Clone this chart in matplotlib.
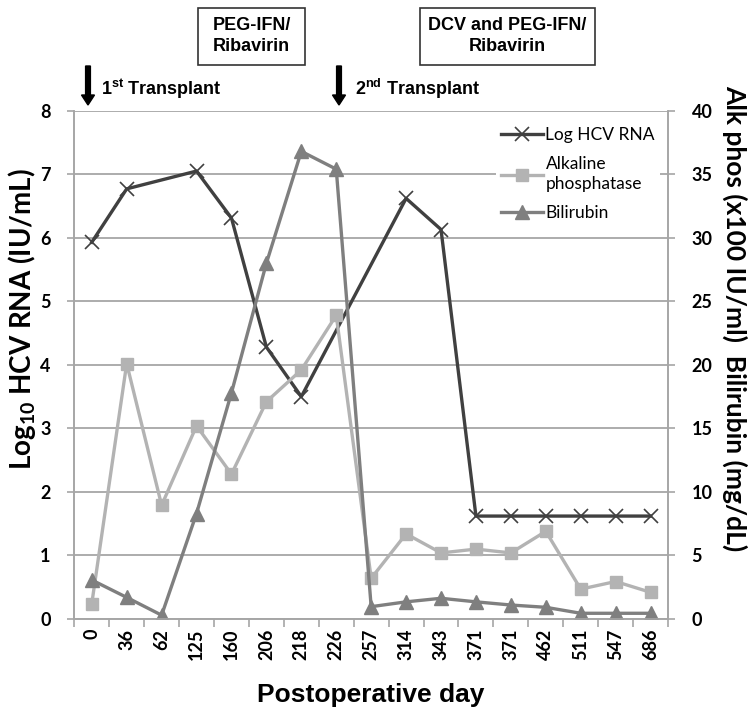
import numpy as np
import matplotlib
matplotlib.use("Agg")
import matplotlib.pyplot as plt
from matplotlib.patches import FancyArrow, Rectangle

plt.rcParams['mathtext.fontset'] = 'custom'
plt.rcParams['mathtext.rm'] = 'Liberation Sans:bold'
plt.rcParams['mathtext.sf'] = 'Lato:bold'

# Data
days = ['0', '36', '62', '125', '160', '206', '218', '226', '257',
		'314', '343', '371', '371', '462', '511', '547', '686']
log_hcv = [5.93, 6.77, np.nan, 7.05, 6.31, 4.28, 3.50, np.nan, np.nan,
		6.62, 6.13, 1.62, 1.62, 1.62, 1.62, 1.62, 1.62]
alk_phos = [1.2, 20.1, 8.95, 15.2, 11.4, 17.1, 19.6, 23.9, 3.2,
		6.7, 5.2, 5.5, 5.2, 6.9, 2.35, 2.95, 2.1]
bilirubin = [3.07, 1.7, 0.3, 8.3, 17.8, 28.0, 36.8, 35.4, 0.97,
		1.35, 1.63, 1.35, 1.1, 0.92, 0.45, 0.45, 0.45]

GRID = '#a6a6a6'
C_HCV = '#404040'
C_ALK = '#b3b3b3'
C_BIL = '#7f7f7f'

fig = plt.figure(figsize=(7.49, 7.11), dpi=100)
ax = fig.add_axes([0.0992, 0.1294, 0.7927, 0.7149])
ax2 = ax.twinx()

x = np.arange(len(days))
hcv = np.array(log_hcv)
ok = ~np.isnan(hcv)

# HCV on the left axis, gaps are bridged like in Excel
ax.plot(x[ok], hcv[ok], color=C_HCV, lw=2.4, marker='x', ms=10, mew=1.2,
		label='Log HCV RNA', zorder=3)
ax2.plot(x, alk_phos, color=C_ALK, lw=2.4, marker='s', ms=9,
		label='Alkaline\nphosphatase')
ax2.plot(x, bilirubin, color=C_BIL, lw=2.4, marker='^', ms=10,
		label='Bilirubin')

ax.set_xlim(-0.5, len(days) - 0.5)
ax.set_ylim(0, 8)
ax2.set_ylim(0, 40)
ax.set_yticks(range(0, 9))
ax2.set_yticks(range(0, 41, 5))
ax.grid(axis='y', color=GRID, lw=1.3)
ax.set_axisbelow(True)

ax.set_xticks(x)
ax.set_xticklabels(days, rotation=90, fontfamily='Lato', fontweight='bold', fontsize=13)
ax.set_xticks(np.arange(-0.5, len(days)), minor=True)
ax.tick_params(axis='x', which='major', length=0, pad=7)
ax.tick_params(axis='x', which='minor', length=6, color=GRID, width=1.2)
ax.tick_params(axis='y', length=5, color=GRID, width=1.2, pad=12)
ax2.tick_params(axis='y', length=5, color=GRID, width=1.2, pad=12)
for lab in ax.get_yticklabels() + ax2.get_yticklabels():
	lab.set_fontfamily('Lato')
	lab.set_fontweight('bold')
	lab.set_fontsize(13)

for a in (ax, ax2):
	a.spines['top'].set_visible(False)
	for s in ('left', 'right', 'bottom'):
		a.spines[s].set_color(GRID)
		a.spines[s].set_linewidth(1.2)

ax.set_xlabel('Postoperative day', fontfamily='Liberation Sans', fontweight='bold', fontsize=19)
ax.xaxis.set_label_coords(0.5, -0.125)
ax.set_ylabel('Log$_{\\mathsf{10}}$ HCV RNA (IU/mL)', fontfamily='Lato', fontweight='bold',
		fontsize=20, va='center')
ax.yaxis.set_label_coords(-0.088, 0.59)
ax2.set_ylabel('Alk phos (x100 IU/ml)  Bilirubin (mg/dL)', fontfamily='Lato', fontweight='bold',
		fontsize=19, rotation=-90, va='center')
ax2.yaxis.set_label_coords(1.112, 0.592)

# legend combining both axes
px = fig.dpi_scale_trans
def pix(v):
	return v / 100.0

h1, l1 = ax.get_legend_handles_labels()
h2, l2 = ax2.get_legend_handles_labels()
leg = ax2.legend(h1 + h2, l1 + l2, loc='upper left', bbox_to_anchor=(pix(496), pix(589)),
		bbox_transform=px, prop={'family': 'Lato', 'size': 12.5},
		frameon=True, facecolor='white', edgecolor='none', framealpha=1,
		handlelength=2.4, handletextpad=0.15, labelspacing=0.75, borderpad=0.3,
		borderaxespad=0)
leg.get_frame().set_boxstyle('square', pad=0)
for t in leg.get_texts():
	t.set_linespacing(1.3)

# annotations above the plot (figure pixels, origin bottom left)
for xa, txt, xt in [(88, '1$^{\\mathrm{st}}$ Transplant', 101), (339, '2$^{\\mathrm{nd}}$ Transplant', 355)]:
	arr = FancyArrow(pix(xa), pix(711 - 66), 0, pix(-39), width=pix(4.8), head_width=pix(13),
			head_length=pix(10), length_includes_head=True, color='black', transform=px)
	fig.patches.append(arr)
	fig.text(xt / 749, (711 - 95) / 711, txt, fontfamily='Liberation Sans', fontweight='bold',
			fontsize=13, va='baseline', ha='left')

for x0, x1, txt in [(198, 305, 'PEG-IFN/\nRibavirin'), (420, 595, 'DCV and PEG-IFN/\nRibavirin')]:
	rect = Rectangle((pix(x0), pix(711 - 65)), pix(x1 - x0), pix(57), fill=False,
			edgecolor='#333333', lw=1.2, transform=px)
	fig.patches.append(rect)
	fig.text((x0 + x1) / 2 / 749, (711 - 36) / 711, txt, fontfamily='Liberation Sans',
			fontweight='bold', fontsize=13, ha='center', va='center', linespacing=1.25)

fig.savefig('out.png', dpi=100)
